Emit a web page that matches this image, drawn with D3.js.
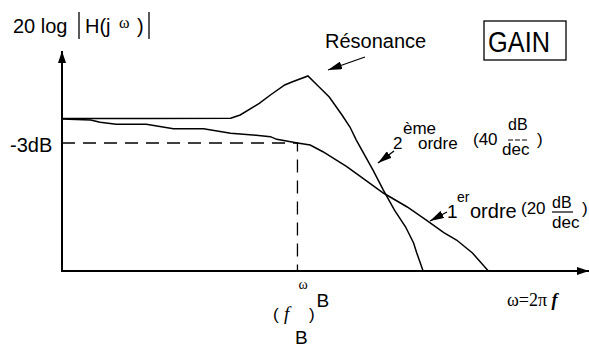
<!DOCTYPE html>
<html>
<head>
<meta charset="utf-8">
<script src="https://cdn.jsdelivr.net/npm/d3@7"></script>
<style>
  body { margin: 0; background: white; }
  svg text { font-family: "Liberation Sans", Arial, sans-serif; fill: black; }
  .serif { font-family: "Liberation Serif", "Times New Roman", serif; }
</style>
</head>
<body>
<svg id="gain" width="589" height="347"></svg>
<script>
// x in decades around the cut-off (log10(w/wB)), y in dB
const firstOrderX = [-1.48, -1.30, -1.24, -1.14, -0.95, -0.78, -0.59, -0.42, -0.26, -0.17, -0.13, 0, 0.08, 0.16, 0.31, 0.41, 0.54, 0.69, 0.81, 0.92, 1.00, 1.10, 1.20];
const firstOrderDb = [0, -0.12, -0.41, -0.66, -0.66, -1.21, -1.21, -1.79, -2.04, -2.21, -2.54, -3, -3.25, -4.09, -5.96, -7.38, -9.25, -11.0, -12.63, -14.21, -15.13, -16.75, -19];

const secondOrderX = [-1.48, -0.93, -0.42, -0.36, -0.24, -0.17, -0.08, -0.035, 0.066, 0.13, 0.20, 0.28, 0.33, 0.37, 0.475, 0.54, 0.61, 0.68, 0.73, 0.75, 0.79];
const secondOrderDb = [0.05, 0.06, 0.09, 0.5, 1.96, 3.0, 4.25, 4.63, 5.38, 4.13, 2.75, 0.5, -1.0, -2.63, -6.38, -8.88, -11.38, -13.5, -15.5, -16.75, -19];

const cutoffDb = -3;
const cutoffX = 0;
const xDomain = [-1.48, 1.82];
const yDomain = [-19, 0];

const svg = d3.select("svg#gain");
const x = d3.scaleLinear().domain(xDomain).range([62, 587]);
const y = d3.scaleLinear().domain(yDomain).range([271, 119]);

// arrow heads
const defs = svg.append("defs");
defs.append("marker").attr("id", "head").attr("viewBox", "0 0 14 8")
  .attr("refX", 14).attr("refY", 4).attr("markerWidth", 14).attr("markerHeight", 8)
  .attr("markerUnits", "userSpaceOnUse").attr("orient", "auto")
  .append("path").attr("d", "M0,0 L14,4 L0,8 Z").attr("fill", "black");
defs.append("marker").attr("id", "axhead").attr("viewBox", "0 0 12 8")
  .attr("refX", 12).attr("refY", 4).attr("markerWidth", 12).attr("markerHeight", 8)
  .attr("markerUnits", "userSpaceOnUse").attr("orient", "auto")
  .append("path").attr("d", "M0,0 L12,4 L0,8 Z").attr("fill", "black");

// axes
svg.append("line").attr("x1", x(xDomain[0])).attr("y1", y(yDomain[0]))
  .attr("x2", x(xDomain[0])).attr("y2", 51)
  .attr("stroke", "black").attr("stroke-width", 2).attr("marker-end", "url(#axhead)");
svg.append("line").attr("x1", x(xDomain[0]) - 1).attr("y1", y(yDomain[0]))
  .attr("x2", 589).attr("y2", y(yDomain[0]))
  .attr("stroke", "black").attr("stroke-width", 2).attr("marker-end", "url(#axhead)");

// -3 dB guides
svg.append("path")
  .attr("d", "M" + x(xDomain[0]) + "," + y(cutoffDb) + " H" + x(cutoffX) + " V" + y(yDomain[0]))
  .attr("fill", "none").attr("stroke", "black").attr("stroke-width", 1.3)
  .attr("stroke-dasharray", "13,8");

// curves
const line = d3.line().x(d => x(d[0])).y(d => y(d[1]));
svg.append("path").datum(d3.zip(firstOrderX, firstOrderDb)).attr("d", line)
  .attr("fill", "none").attr("stroke", "black").attr("stroke-width", 1.5);
svg.append("path").datum(d3.zip(secondOrderX, secondOrderDb)).attr("d", line)
  .attr("fill", "none").attr("stroke", "black").attr("stroke-width", 1.5);

// y label
svg.append("text").attr("x", 13).attr("y", 33).style("font-size", "20px").text("20 log");
svg.append("line").attr("x1", 79).attr("x2", 79).attr("y1", 12).attr("y2", 39).attr("stroke", "black").attr("stroke-width", 1.3);
svg.append("text").attr("x", 85).attr("y", 33).style("font-size", "20px").text("H(j");
svg.append("text").attr("class", "serif").attr("x", 119).attr("y", 28).style("font-size", "16px").text("ω");
svg.append("text").attr("x", 137).attr("y", 33).style("font-size", "20px").text(")");
svg.append("line").attr("x1", 149).attr("x2", 149).attr("y1", 12).attr("y2", 39).attr("stroke", "black").attr("stroke-width", 1.3);

svg.append("text").attr("x", 10).attr("y", y(cutoffDb) + 9).style("font-size", "20px").text("-3dB");

// GAIN box
svg.append("rect").attr("x", 484).attr("y", 21).attr("width", 82).attr("height", 39)
  .attr("fill", "none").attr("stroke", "black").attr("stroke-width", 1.3);
svg.append("text").attr("x", 488).attr("y", 52).style("font-size", "30px")
  .attr("textLength", 62).attr("lengthAdjust", "spacingAndGlyphs").text("GAIN");

// resonance
svg.append("text").attr("x", 325).attr("y", 48).style("font-size", "20px").text("Résonance");
svg.append("line").attr("x1", 365).attr("y1", 57).attr("x2", 328).attr("y2", 70)
  .attr("stroke", "black").attr("stroke-width", 1.3).attr("marker-end", "url(#head)");

// 2nd order label
svg.append("line").attr("x1", 394).attr("y1", 151).attr("x2", 378).attr("y2", 163)
  .attr("stroke", "black").attr("stroke-width", 1.3).attr("marker-end", "url(#head)");
svg.append("text").attr("x", 393).attr("y", 149).style("font-size", "17px").text("2");
svg.append("text").attr("x", 403).attr("y", 134).style("font-size", "17px").text("ème");
svg.append("text").attr("x", 418).attr("y", 149).style("font-size", "17px").text("ordre");
svg.append("text").attr("x", 473).attr("y", 145).style("font-size", "17px").text("(40");
svg.append("text").attr("x", 508).attr("y", 130).style("font-size", "16px").text("dB");
svg.append("line").attr("x1", 508).attr("x2", 529).attr("y1", 140).attr("y2", 140)
  .attr("stroke", "black").attr("stroke-width", 1.2).attr("stroke-dasharray", "5,2");
svg.append("text").attr("x", 502).attr("y", 155).style("font-size", "17px").text("dec");
svg.append("text").attr("x", 537).attr("y", 145).style("font-size", "17px").text(")");

// 1st order label
svg.append("line").attr("x1", 447).attr("y1", 212).attr("x2", 430).attr("y2", 221)
  .attr("stroke", "black").attr("stroke-width", 1.3).attr("marker-end", "url(#head)");
svg.append("text").attr("x", 447).attr("y", 218).style("font-size", "19px").text("1");
svg.append("text").attr("x", 457).attr("y", 202).style("font-size", "14px").text("er");
svg.append("text").attr("x", 470).attr("y", 218).style("font-size", "20px").text("ordre");
svg.append("text").attr("x", 521).attr("y", 214).style("font-size", "17px").text("(20");
svg.append("text").attr("x", 552).attr("y", 208).style("font-size", "16px").text("dB");
svg.append("line").attr("x1", 552).attr("x2", 573).attr("y1", 212).attr("y2", 212)
  .attr("stroke", "black").attr("stroke-width", 1.2);
svg.append("text").attr("x", 552).attr("y", 228).style("font-size", "17px").text("dec");
svg.append("text").attr("x", 582).attr("y", 214).style("font-size", "17px").text(")");

// x labels
svg.append("text").attr("class", "serif").attr("x", x(cutoffX) + 1).attr("y", 289).style("font-size", "14px").text("ω");
svg.append("text").attr("x", x(cutoffX) + 19).attr("y", 307).style("font-size", "19px").text("B");
svg.append("text").attr("x", 273).attr("y", 320).style("font-size", "17px").text("(");
svg.append("text").attr("class", "serif").attr("x", 284).attr("y", 320).style("font-size", "19px")
  .style("font-style", "italic").text("f");
svg.append("text").attr("x", 295).attr("y", 344).style("font-size", "19px").text("B");
svg.append("text").attr("x", 309).attr("y", 320).style("font-size", "17px").text(")");

const wLabel = svg.append("text").attr("class", "serif").attr("x", 507).attr("y", 306).style("font-size", "18px");
wLabel.append("tspan").text("ω=2π ");
wLabel.append("tspan").style("font-style", "italic").style("font-weight", "bold").text("f");
</script>
</body>
</html>
